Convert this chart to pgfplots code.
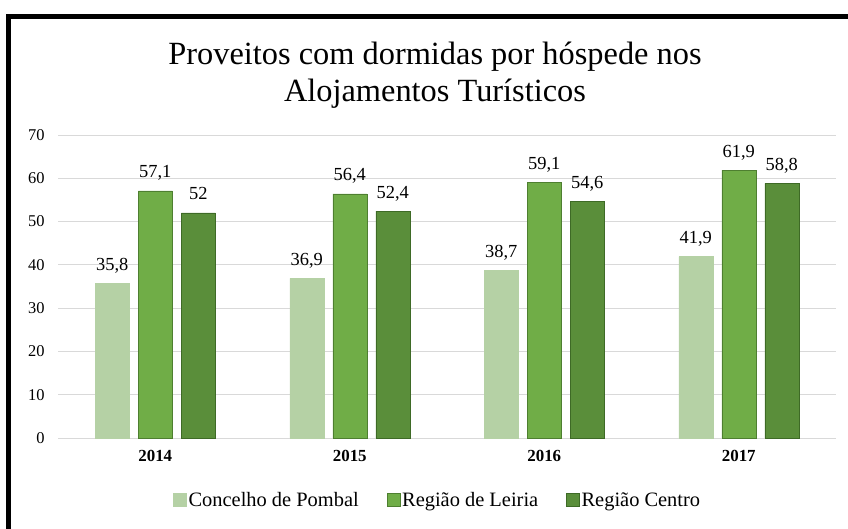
\documentclass[border=0pt]{standalone}
\usepackage{fontspec}
\setmainfont{Liberation Serif}
\usepackage{pgfplots}
\pgfplotsset{compat=1.18}
\definecolor{PombalGreen}{HTML}{B5D1A5}
\definecolor{LeiriaGreen}{HTML}{70AD47}
\definecolor{LeiriaEdge}{HTML}{4E7F30}
\definecolor{CentroGreen}{HTML}{5A8E3A}
\definecolor{CentroEdge}{HTML}{3E6A26}
\definecolor{GridGray}{HTML}{D9D9D9}

\begin{document}
\begin{tikzpicture}
  \begin{axis}[
    scale only axis,
    width=778bp,
    height=303bp,
    anchor=south west,
    at={(0,0)},
    ybar=9bp,
    bar width=34bp,
    ymin=0, ymax=70,
    ytick={0,10,...,70},
    xmin=-0.5, xmax=3.5,
    xtick={0,1,2,3},
    xticklabels={2014,2015,2016,2017},
    axis line style={draw=none},
    major tick length=0pt,
    ymajorgrids,
    grid style={GridGray, line width=0.8bp},
    /pgf/number format/assume math mode=true,
    /pgf/number format/use comma,
    /pgf/number format/fixed,
    /pgf/number format/precision=1,
    yticklabel style={font=\fontsize{16.5}{18}\selectfont, xshift=-10bp},
    xticklabel style={font=\fontsize{17}{19}\selectfont\bfseries, yshift=-9bp},
    nodes near coords,
    every node near coord/.append style={font=\fontsize{18.5}{20}\selectfont, anchor=base, inner sep=0pt, yshift=13bp, text=black},
    legend columns=3,
    legend style={draw=none, fill=none, at={(0.488,-0.205)}, anchor=center,
      font=\fontsize{20.5}{22}\selectfont,
      /tikz/every even column/.append style={column sep=26bp}},
    legend image code/.code={\fill[#1] (0bp,-6.5bp) rectangle (13bp,6.5bp);},
  ]
    \addplot[fill=PombalGreen, draw=PombalGreen]
      coordinates {(0,35.8) (1,36.9) (2,38.7) (3,41.9)};
    \addplot[fill=LeiriaGreen, draw=LeiriaEdge]
      coordinates {(0,57.1) (1,56.4) (2,59.1) (3,61.9)};
    \addplot[fill=CentroGreen, draw=CentroEdge]
      coordinates {(0,52) (1,52.4) (2,54.6) (3,58.8)};
    \legend{Concelho de Pombal, Região de Leiria, Região Centro}
  \end{axis}
  \node[anchor=base, font=\fontsize{32.5}{37}\selectfont] at (377bp,373bp) {Proveitos\ com\ dormidas\ por\ hóspede\ nos};
  \node[anchor=base, font=\fontsize{32.5}{37}\selectfont] at (377bp,336bp) {Alojamentos\ Turísticos};
  \draw[line width=5bp, line join=miter] (-49.5bp,-91bp) -- (-49.5bp,421.5bp) -- (790bp,421.5bp);
  \pgfresetboundingbox
  \path (-58bp,-91bp) rectangle (790bp,438bp);
\end{tikzpicture}
\end{document}
